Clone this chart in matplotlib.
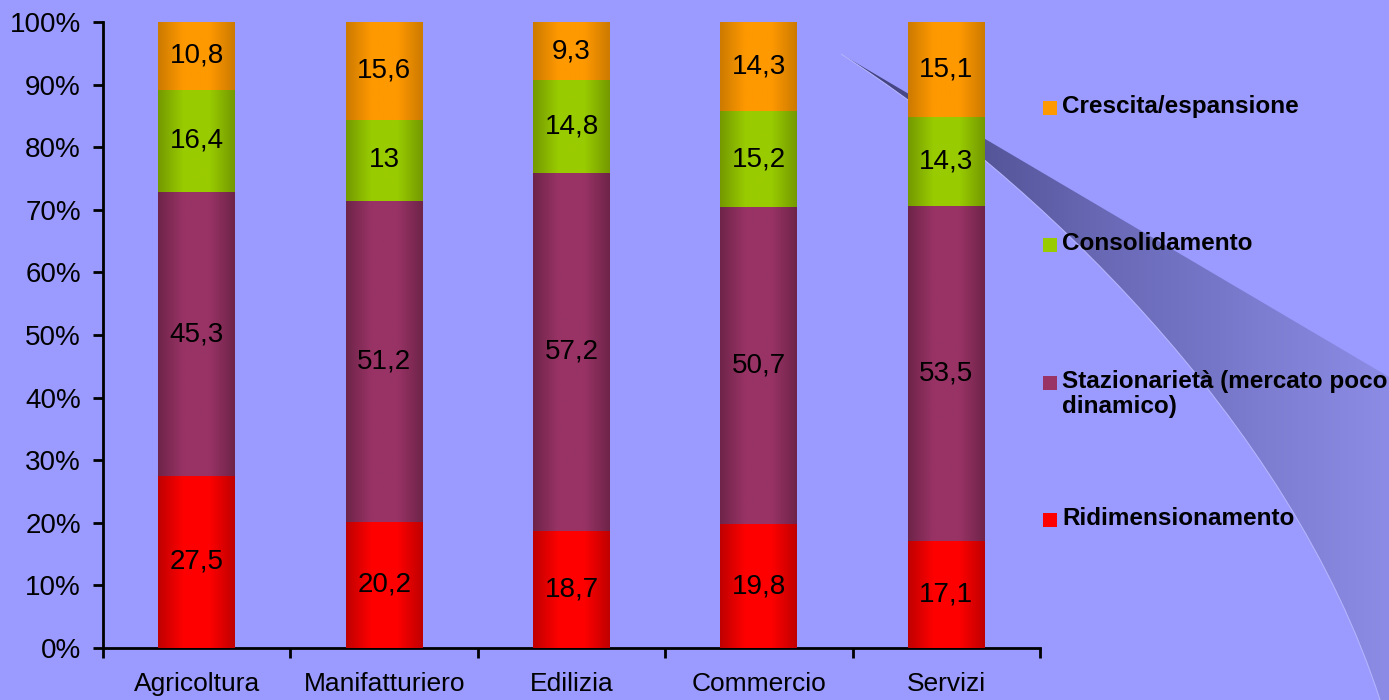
import numpy as np
import matplotlib.pyplot as plt
from matplotlib.path import Path
from matplotlib.patches import Rectangle, PathPatch
from matplotlib.colors import LinearSegmentedColormap

plt.rcParams['font.family'] = ['Liberation Sans', 'DejaVu Sans']

# data
categories = ["Agricoltura", "Manifatturiero", "Edilizia", "Commercio", "Servizi"]
series = ["Ridimensionamento", "Stazionarietà (mercato poco\ndinamico)",
          "Consolidamento", "Crescita/espansione"]
ridim = [27.5, 20.2, 18.7, 19.8, 17.1]
staz = [45.3, 51.2, 57.2, 50.7, 53.5]
consol = [16.4, 13, 14.8, 15.2, 14.3]
cresc = [10.8, 15.6, 9.3, 14.3, 15.1]
values = [ridim, staz, consol, cresc]

# colours: (edge shade, centre shade)
colors = [("#c00000", "#ff0000"), ("#6e2449", "#993366"),
          ("#749900", "#99cc00"), ("#cc7a00", "#ff9900")]
bg = "#9a9aff"

fig = plt.figure(figsize=(13.89, 7), dpi=100)
fig.patch.set_facecolor(bg)

# background decoration (the swoosh on the right), in pixel units
bgax = fig.add_axes([0, 0, 1, 1], zorder=0)
bgax.set_xlim(0, 1389)
bgax.set_ylim(700, 0)
bgax.axis("off")
verts = [(841, 54), (1389, 377), (1389, 700), (1380, 700),
         (1290, 420), (1030, 175), (841, 54), (841, 54)]
codes = [Path.MOVETO, Path.LINETO, Path.LINETO, Path.LINETO,
         Path.CURVE4, Path.CURVE4, Path.CURVE4, Path.CLOSEPOLY]
swoosh = PathPatch(Path(verts, codes), facecolor="none", edgecolor="none")
bgax.add_patch(swoosh)
scm = LinearSegmentedColormap.from_list("sw", ["#3e3e78", "#6a6ab8", "#8c8ce6"])
grad = np.linspace(0, 1, 256).reshape(1, -1)
im = bgax.imshow(grad, cmap=scm, extent=(841, 1389, 700, 54), aspect="auto")
im.set_clip_path(swoosh)
edge = PathPatch(Path(verts[3:7], [Path.MOVETO, Path.CURVE4, Path.CURVE4, Path.CURVE4]),
                 facecolor="none", edgecolor="#b4b4ff", lw=0.8)
bgax.add_patch(edge)

ax = fig.add_axes([0.0742, 0.0743, 0.6745, 0.8943], zorder=1)
ax.set_facecolor("none")

x = np.arange(len(categories)) + 0.5
width = 0.41
bottom = np.zeros(len(categories))
for vals, (c_edge, c_mid) in zip(values, colors):
    bars = ax.bar(x, vals, width, bottom=bottom, color=c_mid, linewidth=0, zorder=2)
    cm = LinearSegmentedColormap.from_list("g", [c_edge, c_mid, c_mid, c_edge])
    g = np.linspace(0, 1, 128).reshape(1, -1)
    for b, v, bt in zip(bars, vals, bottom):
        img = ax.imshow(g, cmap=cm, extent=(b.get_x(), b.get_x() + b.get_width(), bt, bt + v),
                        aspect="auto", zorder=3)
        img.set_clip_path(b)
        lab = ("%g" % v).replace(".", ",")
        ax.text(b.get_x() + b.get_width() / 2, bt + v / 2, lab, ha="center", va="center",
                fontsize=20, color="black", zorder=4)
    bottom = bottom + np.array(vals)

ax.set_xlim(0, len(categories))
ax.set_ylim(0, 100)
ax.set_yticks(np.arange(0, 101, 10))
ax.set_yticklabels(["%d%%" % t for t in range(0, 101, 10)], fontsize=20)
ax.set_xticks(np.arange(len(categories) + 1))
ax.set_xticklabels([])
ax.set_xticks(x, minor=True)
ax.set_xticklabels(categories, minor=True, fontsize=19)
ax.tick_params(axis="x", which="minor", length=0, pad=17)
ax.tick_params(axis="x", which="major", length=7, width=2, direction="out")
ax.tick_params(axis="y", length=7, width=2, direction="out", pad=9)
for s in ["top", "right"]:
    ax.spines[s].set_visible(False)
for s in ["left", "bottom"]:
    ax.spines[s].set_linewidth(2)

# legend (top to bottom, reversed order of stacking)
leg_y = [108, 245, 383, 520]
for (name, (c_edge, c_mid)), yy in zip(list(zip(series, colors))[::-1], leg_y):
    fy = 1 - yy / 700
    fig.patches.append(Rectangle((1043 / 1389, fy - 7 / 700), 14 / 1389, 14 / 700,
                                 transform=fig.transFigure, facecolor=c_mid,
                                 edgecolor="none", zorder=5))
    fig.text(1062 / 1389, fy + 13 / 700, name, ha="left", va="top", fontsize=17.5,
             fontweight="bold", color="black", linespacing=1.1, zorder=5)

fig.savefig("out.png", dpi=100, facecolor=bg)
